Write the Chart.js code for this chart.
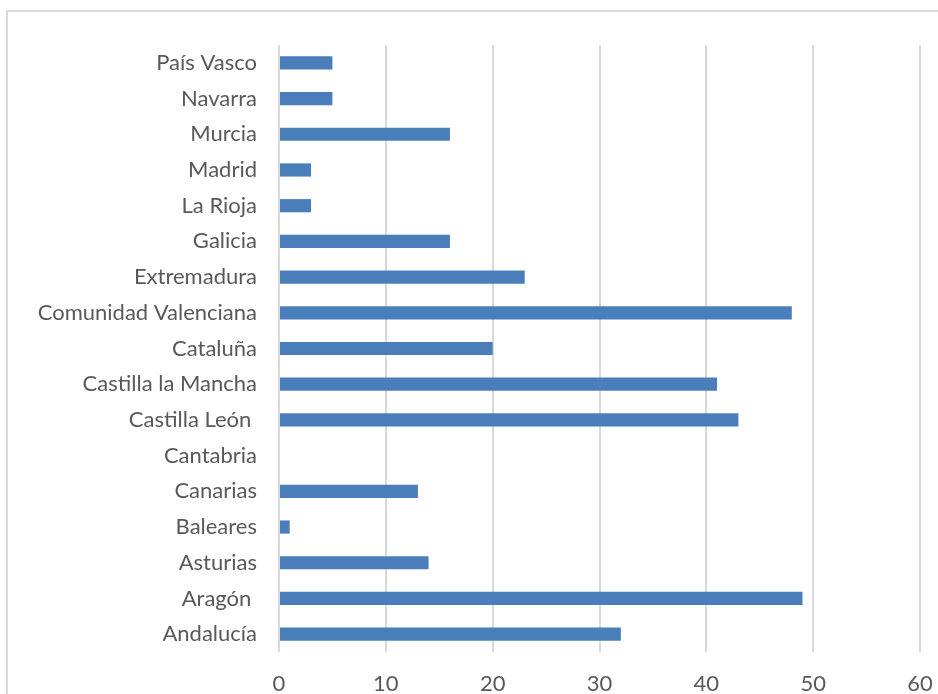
<!DOCTYPE html>
<html>
<head>
<meta charset="utf-8">
<script src="https://cdn.jsdelivr.net/npm/chart.js@4/dist/chart.umd.min.js"></script>
<style>
  html, body { margin: 0; padding: 0; background: #fff; overflow: hidden; }
  #marco { position: absolute; left: 6px; top: 10px; width: 1000px; height: 800px; border: 2px solid #d9d9d9; }
  #contenedor { position: absolute; left: 0; top: 0; width: 938px; height: 694px; }
</style>
</head>
<body>
<div id="marco"></div>
<div id="contenedor"><canvas id="myChart" width="938" height="694"></canvas></div>
<script>
// comunidades, de abajo hacia arriba como en el original
const comunidades = ['Andalucía', 'Aragón ', 'Asturias', 'Baleares', 'Canarias', 'Cantabria', 'Castilla León ',
  'Castilla la Mancha', 'Cataluña', 'Comunidad Valenciana', 'Extremadura', 'Galicia', 'La Rioja', 'Madrid',
  'Murcia', 'Navarra', 'País Vasco'];
const valores = [32, 49, 14, 1, 13, 0, 43, 41, 20, 48, 23, 16, 3, 3, 16, 5, 5];
const ticksX = [0, 10, 20, 30, 40, 50, 60];

const fuente = { family: 'Lato, "Open Sans", sans-serif', size: 22 };

function crearGrafico() {
    const ctx = document.getElementById('myChart').getContext('2d');
    new Chart(ctx, {
        type: 'bar',
        data: {
            labels: comunidades,
            datasets: [{
                data: valores,
                backgroundColor: '#4a7ebb',
                borderWidth: 0,
                categoryPercentage: 1,
                barPercentage: 0.37
            }]
        },
        options: {
            indexAxis: 'y',
            responsive: false,
            animation: false,
            layout: { padding: { left: 0, right: 18, top: 45, bottom: 0 } },
            plugins: { legend: { display: false }, tooltip: { enabled: false } },
            scales: {
                x: {
                    min: ticksX[0],
                    max: ticksX[ticksX.length - 1],
                    afterBuildTicks: (scale) => { scale.ticks = ticksX.map(v => ({ value: v })); },
                    afterFit: (scale) => {
                        scale.height = 42;
                        scale.paddingLeft = 0;
                        scale.paddingRight = 0;
                    },
                    grid: { color: '#d9d9d9', lineWidth: 2, drawTicks: false },
                    border: { display: false },
                    ticks: { color: '#595959', font: fuente, padding: 19 }
                },
                y: {
                    reverse: true,
                    afterFit: (scale) => {
                        scale.width = 279;
                        scale.paddingTop = 0;
                        scale.paddingBottom = 0;
                    },
                    grid: { display: false, drawTicks: false },
                    border: { display: false },
                    ticks: { color: '#595959', font: fuente, padding: 22, autoSkip: false }
                }
            }
        }
    });
}

document.addEventListener("DOMContentLoaded", () => {
    crearGrafico();
});
</script>
</body>
</html>
